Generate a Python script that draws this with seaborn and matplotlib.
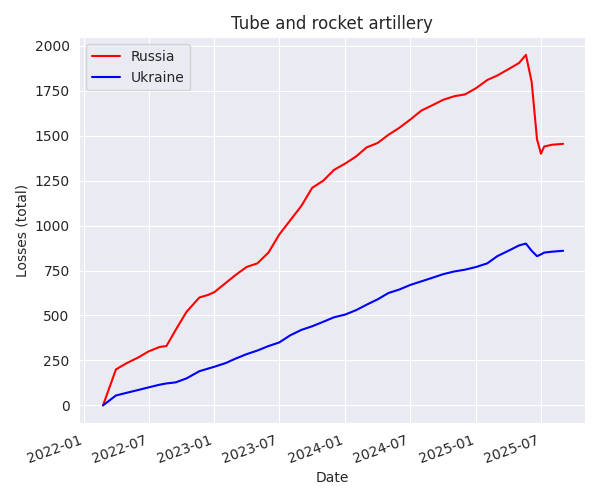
import pandas as pd
import matplotlib.pyplot as plt
import matplotlib.dates as mdates
import seaborn as sns

dates = ['2022-02-24', '2022-04-01', '2022-05-01', '2022-06-01', '2022-07-01', '2022-08-01',
         '2022-08-20', '2022-09-15', '2022-10-15', '2022-11-20', '2022-12-15', '2023-01-01',
         '2023-02-01', '2023-03-01', '2023-04-01', '2023-05-01', '2023-06-01', '2023-07-01',
         '2023-08-01', '2023-09-01', '2023-10-01', '2023-11-01', '2023-12-01', '2024-01-01',
         '2024-02-01', '2024-03-01', '2024-04-01', '2024-05-01', '2024-06-01', '2024-07-01',
         '2024-08-01', '2024-09-01', '2024-10-01', '2024-11-01', '2024-12-01', '2025-01-01',
         '2025-02-01', '2025-03-01', '2025-04-01', '2025-05-01', '2025-05-20', '2025-06-05',
         '2025-06-20', '2025-07-01', '2025-07-10', '2025-08-01', '2025-09-01']
russia = [0, 200, 235, 265, 300, 325, 330, 420, 520, 600, 615, 630,
          680, 725, 770, 790, 850, 950, 1030, 1110, 1210, 1250, 1310, 1345,
          1385, 1435, 1460, 1505, 1545, 1590, 1640, 1670, 1700, 1720, 1730, 1765,
          1810, 1835, 1870, 1905, 1950, 1800, 1480, 1400, 1440, 1450, 1455]
ukraine = [0, 55, 70, 85, 100, 115, 122, 128, 150, 190, 205, 215,
           235, 260, 285, 305, 330, 350, 390, 420, 440, 465, 490, 505,
           530, 560, 590, 625, 645, 670, 690, 710, 730, 745, 755, 770,
           790, 830, 860, 890, 900, 860, 830, 840, 850, 855, 860]

df = pd.DataFrame({'Date': pd.to_datetime(dates), 'Russia': russia, 'Ukraine': ukraine})

sns.set_style("darkgrid")
fig, ax = plt.subplots(figsize=(6, 5), dpi=100)
sns.lineplot(x='Date', y='Russia', data=df, ax=ax, color='red', label='Russia')
sns.lineplot(x='Date', y='Ukraine', data=df, ax=ax, color='blue', label='Ukraine')
ax.set_title('Tube and rocket artillery')
ax.set_xlabel('Date')
ax.set_ylabel('Losses (total)')
ax.set_xlim(pd.Timestamp('2021-12-20'), pd.Timestamp('2025-11-01'))
ax.xaxis.set_major_locator(mdates.MonthLocator(bymonth=[1, 7]))
ax.xaxis.set_major_formatter(mdates.DateFormatter('%Y-%m'))
ax.legend(loc='upper left')
fig.autofmt_xdate(rotation=20)
plt.tight_layout()
plt.savefig('out.png')
